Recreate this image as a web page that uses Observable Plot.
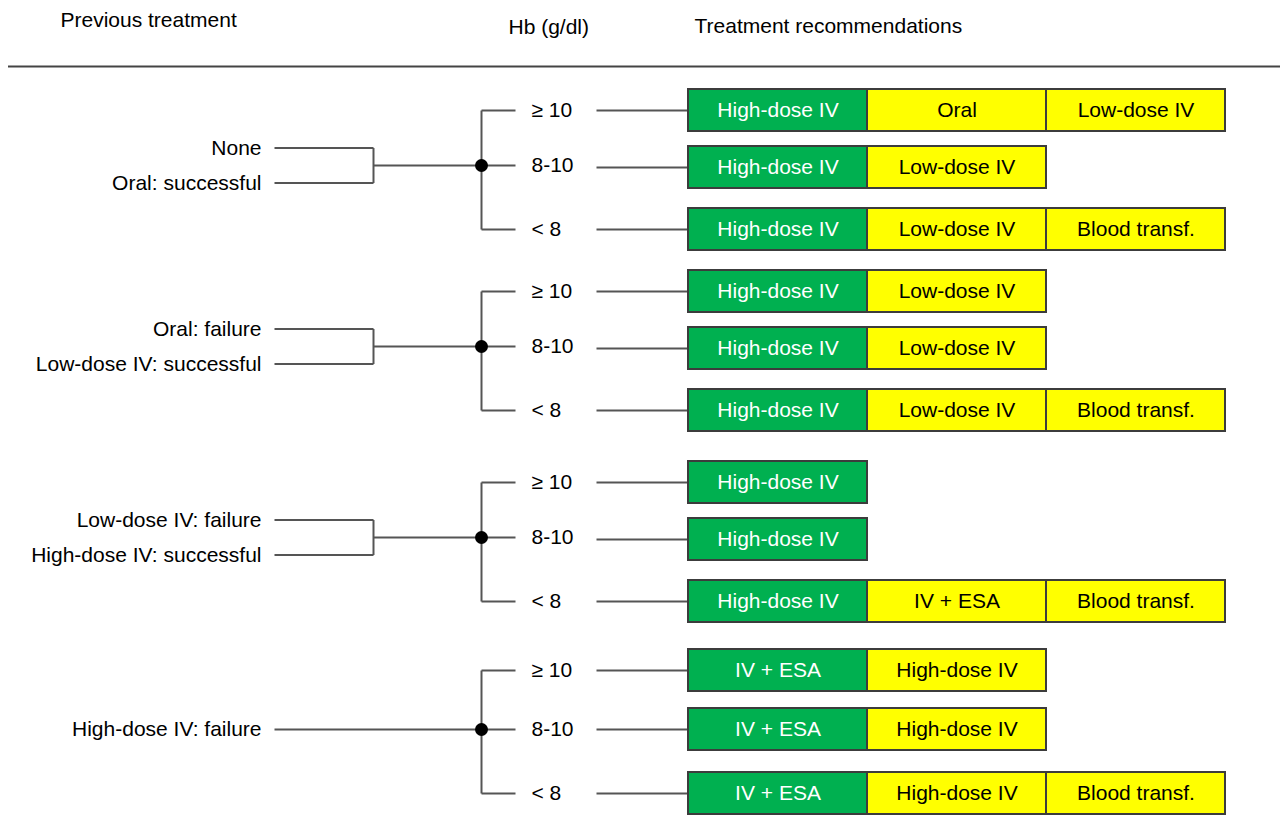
<!DOCTYPE html>
<html>
<head>
<meta charset="utf-8">
<script src="https://cdn.jsdelivr.net/npm/d3@7"></script>
<script src="https://cdn.jsdelivr.net/npm/@observablehq/plot@0.6"></script>
<style>
  html, body { margin: 0; padding: 0; background: #fff; }
  #chart svg { display: block; }
</style>
</head>
<body>
<div id="chart"></div>
<script>
// ---- Data ----
const headers = ["Previous treatment", "Hb (g/dl)", "Treatment recommendations"];
const previousTreatment = [
  ["None", "Oral: successful"],
  ["Oral: failure", "Low-dose IV: successful"],
  ["Low-dose IV: failure", "High-dose IV: successful"],
  ["High-dose IV: failure"]
];
const hbLevels = ["≥ 10", "8-10", "< 8"];
const recommendations = [
  [["High-dose IV", "Oral", "Low-dose IV"], ["High-dose IV", "Low-dose IV"], ["High-dose IV", "Low-dose IV", "Blood transf."]],
  [["High-dose IV", "Low-dose IV"], ["High-dose IV", "Low-dose IV"], ["High-dose IV", "Low-dose IV", "Blood transf."]],
  [["High-dose IV"], ["High-dose IV"], ["High-dose IV", "IV + ESA", "Blood transf."]],
  [["IV + ESA", "High-dose IV"], ["IV + ESA", "High-dose IV"], ["IV + ESA", "High-dose IV", "Blood transf."]]
];

// ---- Layout ----
const W = 1280, H = 819;
const font = "'Liberation Sans', Arial, Helvetica, sans-serif";
const FS = 21;
const GREEN = "#00b050", YELLOW = "#ffff00", LINE = "#555", BORDER = "#3c3c3c";
const groupTops = [110, 291, 482, 670], rowOffsets = [0, 57, 119];
const groupSpread = [0, 0, 0, 2];
const rowY = (g, r) => groupTops[g] + rowOffsets[r] + r * groupSpread[g];
const xLabelEnd = 261, xLeftLine1 = 274, xJoin = 373, xNode = 481, xBranch = 515;
const xHb = 531, xLink1 = 596, xBox = 688, cellW = 179, boxH = 42;

const boxes = [], links = [], leftLabels = [], hbLabels = [], nodes = [];
recommendations.forEach((rows, g) => {
  const labs = previousTreatment[g];
  const mid = rowY(g, 1) - (labs.length === 2 ? 2 : 0);
  nodes.push({x: xNode, y: mid});
  // left side
  if (labs.length === 2) {
    const ys = [mid - 17.5, mid + 17.5];
    labs.forEach((t, i) => {
      leftLabels.push({x: xLabelEnd, y: ys[i], text: t});
      links.push({x1: xLeftLine1, y1: ys[i], x2: xJoin, y2: ys[i]});
    });
    links.push({x1: xJoin, y1: ys[0], x2: xJoin, y2: ys[1]});
    links.push({x1: xJoin, y1: mid, x2: xNode, y2: mid});
  } else {
    leftLabels.push({x: xLabelEnd, y: mid, text: labs[0]});
    links.push({x1: xLeftLine1, y1: mid, x2: xNode, y2: mid});
  }
  // vertical trunk
  links.push({x1: xNode, y1: rowY(g, 0), x2: xNode, y2: rowY(g, 2)});
  rows.forEach((cells, r) => {
    const y = rowY(g, r);
    const yb = r === 1 ? mid : y;
    links.push({x1: xNode, y1: yb, x2: xBranch, y2: yb});
    hbLabels.push({x: xHb, y: yb, text: hbLevels[r]});
    links.push({x1: xLink1, y1: y, x2: xBox, y2: y});
    cells.forEach((t, c) => {
      boxes.push({
        x1: xBox + c * cellW, x2: xBox + (c + 1) * cellW,
        y1: y - boxH / 2, y2: y + boxH / 2,
        cx: xBox + (c + 0.5) * cellW, cy: y,
        text: t, first: c === 0
      });
    });
  });
});

const headerData = [
  {x: 60, y: 20, text: headers[0]},
  {x: 508, y: 27, text: headers[1]},
  {x: 694, y: 26, text: headers[2]}
];

const chart = Plot.plot({
  width: W, height: H,
  margin: 0,
  style: {fontFamily: font, background: "#fff"},
  x: {domain: [0, W], range: [0, W], axis: null},
  y: {domain: [0, H], range: [0, H], axis: null},
  marks: [
    Plot.ruleY([66], {x1: 8, x2: W, stroke: "#444", strokeWidth: 2}),
    Plot.text(headerData, {x: "x", y: "y", text: "text", textAnchor: "start", fontSize: FS, fill: "#000"}),
    Plot.link(links, {x1: "x1", y1: "y1", x2: "x2", y2: "y2", stroke: LINE, strokeWidth: 2}),
    Plot.dot(nodes, {x: "x", y: "y", r: 6.5, fill: "#000", stroke: "none"}),
    Plot.text(leftLabels, {x: "x", y: "y", text: "text", textAnchor: "end", fontSize: FS, fill: "#000"}),
    Plot.text(hbLabels, {x: "x", y: "y", text: "text", textAnchor: "start", fontSize: FS, fill: "#000"}),
    Plot.rect(boxes, {x1: "x1", x2: "x2", y1: "y1", y2: "y2", fill: d => d.first ? GREEN : YELLOW, stroke: BORDER, strokeWidth: 2}),
    Plot.text(boxes, {x: "cx", y: "cy", text: "text", fontSize: FS, fill: d => d.first ? "#fff" : "#000"})
  ]
});
document.getElementById("chart").appendChild(chart);
</script>
</body>
</html>
